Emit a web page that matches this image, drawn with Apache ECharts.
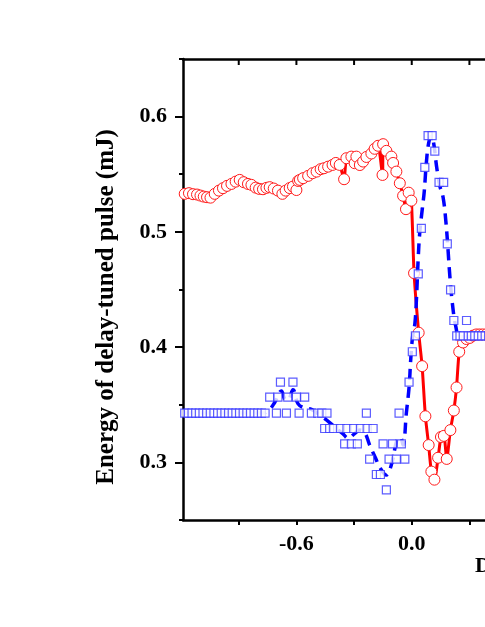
<!DOCTYPE html>
<html>
<head>
<meta charset="utf-8">
<script src="https://cdn.jsdelivr.net/npm/echarts@6/dist/echarts.min.js"></script>
<style>
html,body{margin:0;padding:0;background:#fff;}
#chart{width:485px;height:627px;}
</style>
</head>
<body>
<div id="chart"></div>
<script>
// ---- Data (delay in ps, energy in mJ) ----
const redX = [-1.181,-1.159,-1.138,-1.117,-1.099,-1.082,-1.065,-1.047,-1.025,-1.003,-0.982,-0.961,-0.938,-0.916,-0.895,-0.874,-0.852,-0.834,-0.812,-0.794,-0.774,-0.756,-0.739,-0.718,-0.696,-0.673,-0.656,-0.635,-0.618,-0.600,-0.591,
  -0.582,-0.565,-0.539,-0.516,-0.495,-0.474,-0.457,-0.435,-0.412,-0.395,-0.375,-0.352,-0.340,-0.314,-0.297,-0.288,-0.270,-0.253,-0.236,-0.210,-0.193,-0.175,-0.152,-0.149,-0.132,-0.106,-0.097,-0.080,-0.062,-0.045,-0.030,-0.016,-0.002,0.012,
  0.036,0.054,0.071,0.088,0.102,0.118,0.137,0.152,0.167,0.182,0.201,0.219,0.233,0.247,0.267,0.285,0.302,0.319,0.336,0.353,0.370,0.388,0.405,0.423];
const redY = [0.5330,0.5336,0.5327,0.5324,0.5315,0.5306,0.5301,0.5297,0.5330,0.5358,0.5379,0.5399,0.5416,0.5436,0.5451,0.5431,0.5416,0.5408,0.5384,0.5373,0.5370,0.5382,0.5388,0.5376,0.5358,0.5330,0.5358,0.5380,0.5393,0.5363,0.5442,
  0.5451,0.5466,0.5486,0.5509,0.5523,0.5544,0.5552,0.5566,0.5581,0.5598,0.5581,0.5457,0.5639,0.5653,0.5596,0.5653,0.5580,0.5610,0.5650,0.5680,0.5721,0.5747,0.5494,0.5761,0.5703,0.5653,0.5598,0.5523,0.5422,0.5313,0.5197,0.5340,0.5271,
  0.4642,0.4125,0.3835,0.3400,0.3150,0.2920,0.2850,0.3040,0.3220,0.3230,0.3030,0.3280,0.3450,0.3650,0.3960,0.4040,0.4070,0.4080,0.4100,0.4110,0.4110,0.4110,0.4110,0.4110];

const blueX = [-1.181,-1.162,-1.143,-1.124,-1.105,-1.086,-1.067,-1.048,-1.029,-1.010,-0.991,-0.972,-0.953,-0.934,-0.915,-0.896,-0.877,-0.858,-0.839,-0.820,-0.801,-0.782,-0.763,
  -0.739,-0.704,-0.696,-0.683,-0.652,-0.645,-0.618,-0.600,-0.586,-0.557,-0.522,-0.489,-0.468,-0.453,-0.441,-0.427,-0.406,-0.371,-0.349,-0.337,-0.314,-0.302,-0.283,-0.267,-0.236,-0.232,-0.219,-0.201,-0.184,-0.163,-0.149,-0.132,-0.118,-0.100,-0.080,-0.066,-0.054,-0.036,
  -0.014,0.003,0.019,0.034,0.050,0.068,0.085,0.106,0.120,0.142,0.166,0.185,0.202,0.219,0.234,0.251,0.268,0.285,0.294,0.310,0.328,0.346,0.364,0.382,0.400,0.418];
const blueY = [0.3428,0.3428,0.3428,0.3428,0.3428,0.3428,0.3428,0.3428,0.3428,0.3428,0.3428,0.3428,0.3428,0.3428,0.3428,0.3428,0.3428,0.3428,0.3428,0.3428,0.3428,0.3428,0.3428,
  0.3566,0.3428,0.3566,0.3696,0.3428,0.3566,0.3696,0.3566,0.3428,0.3566,0.3428,0.3428,0.3428,0.3294,0.3428,0.3294,0.3294,0.3294,0.3161,0.3294,0.3161,0.3294,0.3161,0.3294,0.3428,0.3294,0.3029,0.3294,0.2895,0.2895,0.3161,0.2762,0.3029,0.3161,0.3029,0.3428,0.3161,0.3029,
  0.3696,0.3960,0.4098,0.4635,0.5030,0.5560,0.5835,0.5835,0.5700,0.5430,0.5430,0.4896,0.4496,0.4231,0.4098,0.4098,0.4098,0.4231,0.4098,0.4098,0.4098,0.4098,0.4098,0.4098,0.4098,0.4098];

// smoothed (dashed) curve through the blue data
const fitX = [-1.19,-0.95,-0.77,-0.739,-0.713,-0.678,-0.661,-0.644,-0.618,-0.592,-0.557,-0.522,-0.479,-0.430,-0.390,-0.359,-0.331,-0.297,-0.271,-0.245,-0.219,-0.189,-0.164,-0.132,-0.106,-0.076,-0.060,-0.045,-0.028,-0.014,-0.005,0.005,0.016,0.024,0.033,0.042,0.055,0.065,0.076,0.088,0.102,0.114,0.129,0.146,0.163,0.177,0.189,0.198,0.212,0.229,0.250,0.302,0.360,0.420];
const fitY = [0.3428,0.3428,0.3428,0.346,0.352,0.362,0.355,0.354,0.363,0.351,0.347,0.346,0.341,0.335,0.329,0.325,0.321,0.325,0.328,0.326,0.315,0.304,0.295,0.289,0.298,0.320,0.322,0.315,0.343,0.365,0.390,0.410,0.420,0.440,0.475,0.500,0.520,0.535,0.560,0.577,0.583,0.577,0.557,0.540,0.530,0.510,0.484,0.462,0.437,0.418,0.409,0.409,0.409,0.409];

const xTickVals = [-0.9,-0.6,-0.3,0,0.3,0.6,0.9,1.2,1.5,1.8,2.1];
const xLabelVals = [-0.6,0,0.6,1.2,1.8];
const yLabelVals = [0.3,0.4,0.5,0.6];
const yMinorVals = [0.25,0.35,0.45,0.55,0.65];
const yTop = 0.65;

const FONT = '"Liberation Serif","Times New Roman",serif';
const zip = (a,b)=>a.map((v,i)=>[v,b[i]]);

const chart = echarts.init(document.getElementById('chart'), null, {renderer:'canvas'});
chart.setOption({
  animation:false,
  backgroundColor:'#fff',
  grid:{left:183, top:59, width:692, height:461, containLabel:false, outerBoundsMode:'none'},
  xAxis:[{
    type:'value', position:'bottom', min:-1.19, max:2.41,
    axisLine:{onZero:false, lineStyle:{color:'#000', width:2.5}},
    axisTick:{show:true, customValues:xTickVals, length:5, lineStyle:{color:'#000', width:2}},
    axisLabel:{customValues:xLabelVals, formatter:v=>Number(v).toFixed(1), color:'#000', fontFamily:FONT, fontWeight:'bold', fontSize:22, margin:13},
    splitLine:{show:false}
  },{
    type:'value', position:'top', min:-1.19, max:2.41,
    axisLine:{show:true, onZero:false, lineStyle:{color:'#000', width:2.5}},
    axisTick:{show:false}, axisLabel:{show:false}, splitLine:{show:false}
  }],
  yAxis:[{
    type:'value', position:'left', min:0.25, max:0.65,
    axisLine:{onZero:false, lineStyle:{color:'#000', width:2.5}},
    axisTick:{customValues:yLabelVals, length:8, lineStyle:{color:'#000', width:2}},
    axisLabel:{customValues:yLabelVals, formatter:v=>Number(v).toFixed(1), color:'#000', fontFamily:FONT, fontWeight:'bold', fontSize:22, margin:16},
    splitLine:{show:false}
  },{
    type:'value', position:'left', min:0.25, max:0.65,
    axisLine:{show:false, onZero:false},
    axisTick:{customValues:yMinorVals, length:4, lineStyle:{color:'#000', width:2}},
    axisLabel:{show:false}, splitLine:{show:false}
  }],
  series:[{
    type:'line', data:zip(redX, redY), z:2,
    symbol:'circle', symbolSize:11, smooth:0.2,
    lineStyle:{color:'#ff0000', width:3},
    itemStyle:{color:'#fff', borderColor:'#ff1a1a', borderWidth:1}
  },{
    type:'line', data:zip(fitX, fitY), z:3,
    symbol:'none', smooth:0.4,
    lineStyle:{color:'#0000ff', width:3.5, type:[11,7]}
  },{
    type:'scatter', data:zip(blueX, blueY), z:4,
    symbol:'rect', symbolSize:8,
    itemStyle:{color:'#fff', borderColor:'#3333ff', borderWidth:1.2}
  },{
    // inward ticks hanging from the top frame, positioned through the x scale
    type:'custom', z:10, silent:true, clip:false,
    data: xTickVals.map(v => [v, yTop]),
    renderItem:(params, api) => {
      const p = api.coord([api.value(0), api.value(1)]);
      return {type:'line', shape:{x1:p[0], y1:p[1], x2:p[0], y2:p[1] + 6}, style:{stroke:'#000', lineWidth:2}};
    }
  }],
  graphic:[{
    type:'text', x:107, y:307, rotation:Math.PI/2,
    style:{text:'Energy of delay-tuned pulse (mJ)', x:0, y:0, font:'bold 25px '+FONT, fill:'#000', align:'center', verticalAlign:'middle'}
  },{
    type:'text', x:475, y:555,
    style:{text:'Delay (ps)', x:0, y:0, font:'bold 22px '+FONT, fill:'#000', align:'left', verticalAlign:'top'}
  }]
});
</script>
</body>
</html>
